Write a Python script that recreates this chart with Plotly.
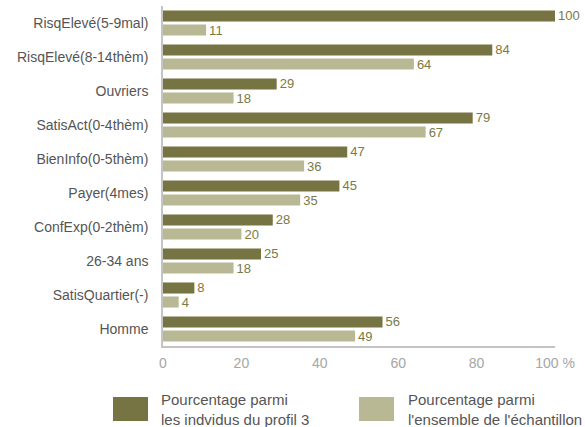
import plotly.graph_objects as go

categories = ["RisqElevé(5-9mal)", "RisqElevé(8-14thèm)", "Ouvriers", "SatisAct(0-4thèm)",
              "BienInfo(0-5thèm)", "Payer(4mes)", "ConfExp(0-2thèm)", "26-34 ans",
              "SatisQuartier(-)", "Homme"]
profil3 = [100, 84, 29, 79, 47, 45, 28, 25, 8, 56]
ensemble = [11, 64, 18, 67, 36, 35, 20, 18, 4, 49]
tick_vals = [0, 20, 40, 60, 80, 100]
tick_text = ["0", "20", "40", "60", "80", "100 %"]
series_names = ["Pourcentage parmi<br>les indvidus du profil 3",
                "Pourcentage parmi<br>l'ensemble de l'échantillon"]

DARK = "#777443"
LIGHT = "#b8b895"
FONT = "Liberation Sans, Arial, sans-serif"

W, H = 585, 427
PL, PR, PT, PB = 163, 30, 6, 81
PW = W - PL - PR
PH = H - PT - PB

fig = go.Figure()
for vals, col, name in [(profil3, DARK, series_names[0]), (ensemble, LIGHT, series_names[1])]:
    fig.add_trace(go.Bar(
        y=categories, x=vals, orientation="h", name=name,
        marker=dict(color=col, line=dict(width=0)),
        text=[str(v) for v in vals], texttemplate="%{text}", textposition="outside",
        textfont=dict(family=FONT, size=13, color="#7a7a45"),
        constraintext="none", cliponaxis=False, showlegend=False,
    ))

fig.update_layout(
    width=W, height=H,
    margin=dict(l=PL, r=PR, t=PT, b=PB),
    barmode="group", bargap=0.176, bargroupgap=0.21,
    plot_bgcolor="white", paper_bgcolor="white",
    font=dict(family=FONT, size=14, color="#555555"),
    xaxis=dict(range=[0, 100], tickvals=tick_vals, ticktext=tick_text,
               showgrid=False, zeroline=False, showline=True, linecolor="#c4c4c4",
               linewidth=1.5, ticks="", tickfont=dict(color="#a6a6a6", size=14),
               ticklabelstandoff=3),
    yaxis=dict(autorange="reversed", showgrid=False, zeroline=False, showline=True,
               linecolor="#c4c4c4", linewidth=1.5, ticks="",
               tickfont=dict(color="#555555", size=14), ticklabelstandoff=10),
)

# legend drawn manually (figure pixel coords -> paper)
def px(x):
    return (x - PL) / PW

def py(y):
    return (PT + PH - y) / PH

legend_items = [(DARK, 113, 148, series_names[0], 159), (LIGHT, 359, 394, series_names[1], 406)]
for col, x0, x1, txt, tx in legend_items:
    fig.add_shape(type="rect", xref="paper", yref="paper",
                  x0=px(x0), x1=px(x1), y0=py(421), y1=py(397),
                  fillcolor=col, line=dict(width=0))
    fig.add_annotation(xref="paper", yref="paper", x=px(tx), y=py(409),
                       text=txt, showarrow=False, xanchor="left", yanchor="middle",
                       align="left", font=dict(family=FONT, size=15, color="#555555"))

fig.write_html("out.html", config={"displayModeBar": False},
               post_script="document.body.style.margin='0';document.body.style.overflow='hidden';")
